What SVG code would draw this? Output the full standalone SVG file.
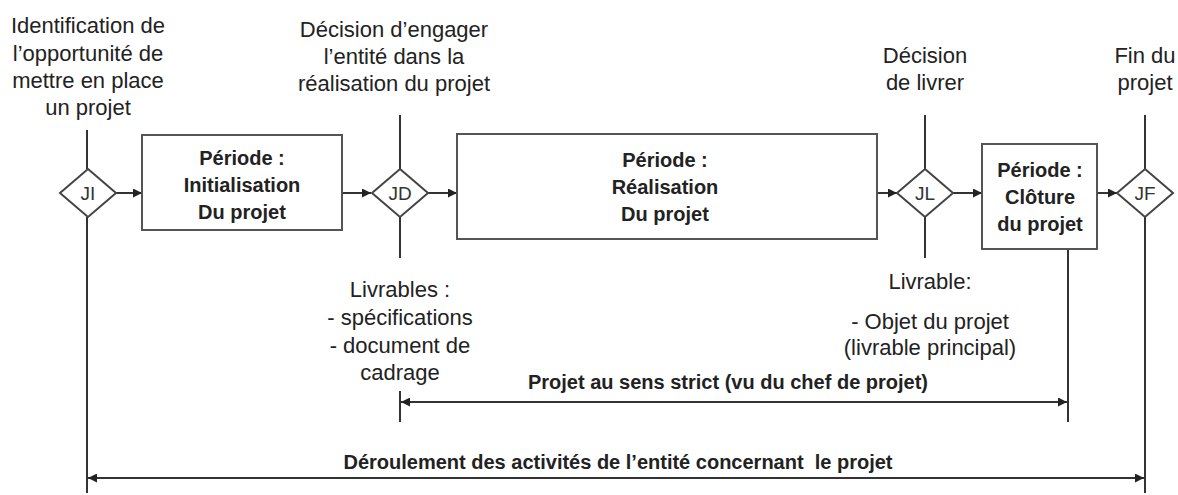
<svg xmlns="http://www.w3.org/2000/svg" width="1178" height="495" viewBox="0 0 1178 495">
<defs>
<marker id="ah" viewBox="0 0 10 10" refX="10" refY="5" markerWidth="10" markerHeight="9" markerUnits="userSpaceOnUse" orient="auto-start-reverse">
<path d="M0,0 L10,5 L0,10 z" fill="#222"/>
</marker>
<style>
.t{font-family:"Liberation Sans",Arial,sans-serif;font-size:22px;fill:#222;text-anchor:middle}
.b{font-family:"Liberation Sans",Arial,sans-serif;font-size:20px;font-weight:bold;fill:#222;text-anchor:middle}
.j{font-family:"Liberation Sans",Arial,sans-serif;font-size:19px;fill:#333;text-anchor:middle}
.box{fill:#fff;stroke:#555;stroke-width:2}
.dia{fill:#fff;stroke:#444;stroke-width:2}
.ln{stroke:#333;stroke-width:2;fill:none}
.ar{stroke:#333;stroke-width:2;fill:none;marker-end:url(#ah)}
.ar2{stroke:#333;stroke-width:2;fill:none;marker-start:url(#ah);marker-end:url(#ah)}
</style>
</defs>

<g id="labels">
<text class="t" x="88" y="33">Identification de</text>
<text class="t" x="88" y="61">l’opportunité de</text>
<text class="t" x="88" y="88">mettre en place</text>
<text class="t" x="88" y="115">un projet</text>
<text class="t" x="394" y="37">Décision d’engager</text>
<text class="t" x="394" y="64">l’entité dans la</text>
<text class="t" x="394" y="91">réalisation du projet</text>
<text class="t" x="925" y="63">Décision</text>
<text class="t" x="925" y="90">de livrer</text>
<text class="t" x="1145" y="63">Fin du</text>
<text class="t" x="1145" y="90">projet</text>
<text class="t" x="400" y="297">Livrables :</text>
<text class="t" x="400" y="325">- spécifications</text>
<text class="t" x="400" y="353">- document de</text>
<text class="t" x="400" y="380">cadrage</text>
<text class="t" x="930" y="289">Livrable:</text>
<text class="t" x="930" y="329">- Objet du projet</text>
<text class="t" x="930" y="355">(livrable principal)</text>
<text class="b" x="728" y="389">Projet au sens strict (vu du chef de projet)</text>
<text class="b" x="618" y="469" xml:space="preserve">Déroulement des activités de l’entité concernant  le projet</text>
</g>

<g id="connectors">
<line class="ln" x1="87" y1="130" x2="87" y2="169"/>
<line class="ln" x1="87" y1="217" x2="87" y2="493"/>
<line class="ln" x1="400" y1="115" x2="400" y2="169"/>
<line class="ln" x1="400" y1="217" x2="400" y2="258"/>
<line class="ln" x1="400" y1="391" x2="400" y2="422"/>
<line class="ln" x1="925" y1="115" x2="925" y2="169"/>
<line class="ln" x1="925" y1="217" x2="925" y2="258"/>
<line class="ln" x1="1145" y1="115" x2="1145" y2="169"/>
<line class="ln" x1="1145" y1="217" x2="1145" y2="493"/>
<line class="ln" x1="1068" y1="249" x2="1068" y2="422"/>
<line class="ar" x1="116" y1="193" x2="142" y2="193"/>
<line class="ar" x1="342" y1="193" x2="371" y2="193"/>
<line class="ar" x1="428" y1="193" x2="457" y2="193"/>
<line class="ar" x1="877" y1="193" x2="897" y2="193"/>
<line class="ar" x1="953" y1="193" x2="982" y2="193"/>
<line class="ar" x1="1097" y1="193" x2="1117" y2="193"/>
<line class="ar2" x1="401" y1="402" x2="1067" y2="402"/>
<line class="ar2" x1="88" y1="478" x2="1144" y2="478"/>
</g>

<g id="JI">
<polygon class="dia" points="88,169 116,193 88,217 60,193"/>
<text class="j" x="88" y="200">JI</text>
</g>
<g id="init">
<rect class="box" x="142" y="135" width="200" height="95"/>
<text class="b" x="242" y="165">Période :</text>
<text class="b" x="242" y="192">Initialisation</text>
<text class="b" x="242" y="219">Du projet</text>
</g>
<g id="JD">
<polygon class="dia" points="400,169 428,193 400,217 372,193"/>
<text class="j" x="400" y="200">JD</text>
</g>
<g id="realisation">
<rect class="box" x="457" y="134" width="420" height="105"/>
<text class="b" x="665" y="167">Période :</text>
<text class="b" x="665" y="194">Réalisation</text>
<text class="b" x="665" y="221">Du projet</text>
</g>
<g id="JL">
<polygon class="dia" points="925,169 953,193 925,217 897,193"/>
<text class="j" x="925" y="200">JL</text>
</g>
<g id="cloture">
<rect class="box" x="982" y="144" width="115" height="105"/>
<text class="b" x="1040" y="177">Période :</text>
<text class="b" x="1040" y="204">Clôture</text>
<text class="b" x="1040" y="231">du projet</text>
</g>
<g id="JF">
<polygon class="dia" points="1145,169 1173,193 1145,217 1117,193"/>
<text class="j" x="1145" y="200">JF</text>
</g>
</svg>
